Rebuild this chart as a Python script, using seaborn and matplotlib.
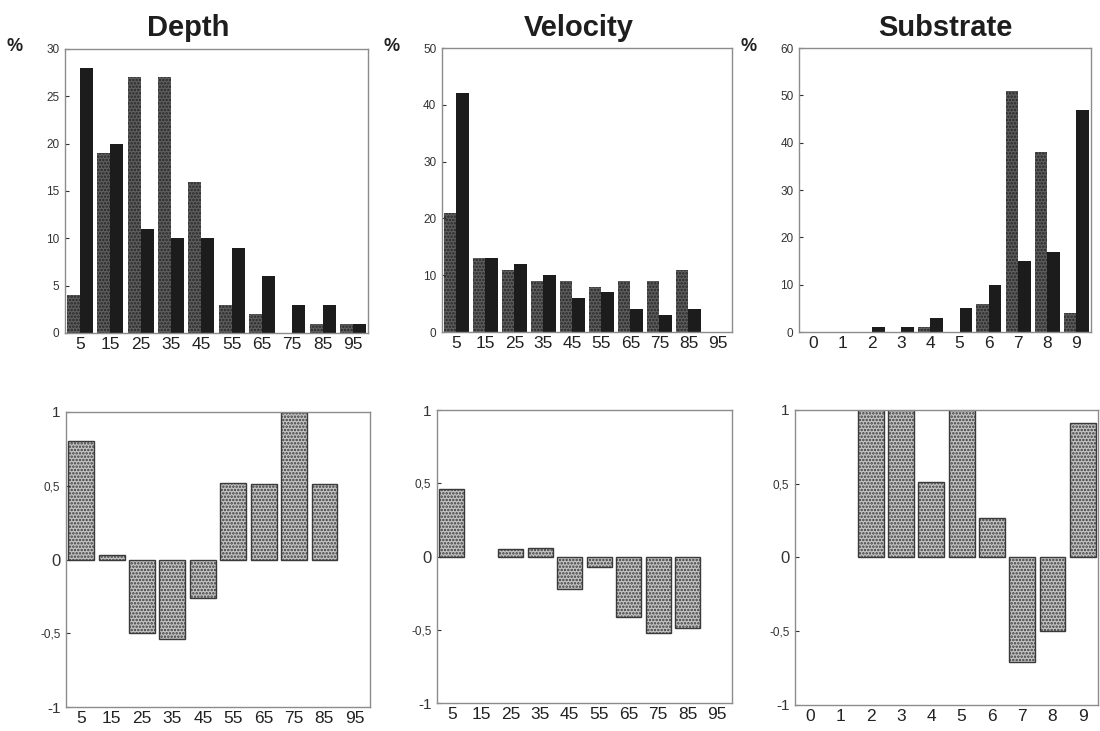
import pandas as pd
import numpy as np
import matplotlib
matplotlib.use('Agg')
import matplotlib.pyplot as plt
import seaborn as sns

# classes em cada painel
classes_prof = ['5', '15', '25', '35', '45', '55', '65', '75', '85', '95']
classes_vel = ['5', '15', '25', '35', '45', '55', '65', '75', '85', '95']
classes_subs = ['0', '1', '2', '3', '4', '5', '6', '7', '8', '9']

# frequencias (%) - disponivel (claro) e usado (escuro)
prof_disp = [4, 19, 27, 27, 16, 3, 2, 0, 1, 1]
prof_uso = [28, 20, 11, 10, 10, 9, 6, 3, 3, 1]
vel_disp = [21, 13, 11, 9, 9, 8, 9, 9, 11, 0]
vel_uso = [42, 13, 12, 10, 6, 7, 4, 3, 4, 0]
subs_disp = [0, 0, 0, 0, 1, 0, 6, 51, 38, 4]
subs_uso = [0, 0, 1, 1, 3, 5, 10, 15, 17, 47]

# indice de selecao (linha de baixo), None = sem barra
prof_ind = [0.80, 0.03, -0.50, -0.54, -0.26, 0.52, 0.51, 1.0, 0.51, None]
vel_ind = [0.46, None, 0.05, 0.06, -0.22, -0.07, -0.41, -0.52, -0.49, None]
subs_ind = [None, None, 1.0, 1.0, 0.51, 1.0, 0.27, -0.71, -0.50, 0.91]

titulos = ['Depth', 'Velocity', 'Substrate']
ylim_topo = [30, 50, 60]
passo_topo = [5, 10, 10]

plt.rcParams['font.family'] = ['Liberation Sans', 'DejaVu Sans']
plt.rcParams['hatch.linewidth'] = 1.2

fig = plt.figure(figsize=(11, 7.31), dpi=100)

pos_topo = [[0.0591, 0.5445, 0.2755, 0.3885],
            [0.4018, 0.5458, 0.2636, 0.3885],
            [0.7264, 0.5458, 0.2655, 0.3885]]
pos_baixo = [[0.0600, 0.0328, 0.2764, 0.4036],
             [0.3973, 0.0383, 0.2682, 0.4008],
             [0.7227, 0.0356, 0.2755, 0.4036]]
x_titulo = [0.406, 0.472, 0.5]

dados_topo = [(classes_prof, prof_disp, prof_uso),
              (classes_vel, vel_disp, vel_uso),
              (classes_subs, subs_disp, subs_uso)]
dados_baixo = [(classes_prof, prof_ind), (classes_vel, vel_ind), (classes_subs, subs_ind)]


def estilo_eixo(ax):
    for s in ax.spines.values():
        s.set_visible(True)
        s.set_color('#8c8c8c')
        s.set_linewidth(1.0)
    ax.set_xlabel('')
    ax.set_ylabel('')
    ax.set_xlim(-0.5, 9.5)
    ax.tick_params(axis='x', length=0, labelsize=12.5, pad=3, colors='#222222')
    ax.tick_params(axis='y', direction='in', length=3, labelsize=8.5, pad=4,
                   colors='#333333')


for i in range(3):
    classes, disp, uso = dados_topo[i]
    df = pd.DataFrame({
        'classe': classes * 2,
        'valor': disp + uso,
        'tipo': ['disp'] * len(classes) + ['uso'] * len(classes),
    })
    ax = fig.add_axes(pos_topo[i])
    sns.barplot(data=df, x='classe', y='valor', hue='tipo', order=classes,
                palette=['#5e5e5e', '#1c1c1c'], width=0.86, linewidth=0,
                legend=False, ax=ax)
    for p in ax.containers[0]:
        p.set_hatch('.....')
        p.set_edgecolor('#262626')
        p.set_linewidth(0)
    estilo_eixo(ax)
    ax.set_ylim(0, ylim_topo[i])
    ax.set_yticks(np.arange(0, ylim_topo[i] + 1, passo_topo[i]))
    ax.set_title(titulos[i], fontsize=21, fontweight='bold', pad=9,
                 color='#1e1e1e', x=x_titulo[i])
    ax.annotate('%', xy=(0, 1), xycoords='axes fraction', xytext=(-50, 2),
                textcoords='offset pixels', fontsize=13, fontweight='bold',
                color='#222222', ha='center', va='center')

for i in range(3):
    classes, ind = dados_baixo[i]
    df = pd.DataFrame({'classe': classes, 'valor': ind}).dropna()
    ax = fig.add_axes(pos_baixo[i])
    sns.barplot(data=df, x='classe', y='valor', order=classes, color='#c4c4c4',
                width=0.85, edgecolor='#3a3a3a', linewidth=1.0, hatch='.....',
                ax=ax)
    estilo_eixo(ax)
    ax.set_ylim(-1, 1)
    ax.set_yticks([-1, -0.5, 0, 0.5, 1])
    ax.set_yticklabels(['-1', '-0,5', '0', '0,5', '1'])
    labs = ax.get_yticklabels()
    labs[2].set_fontsize(12)
    labs[0].set_fontsize(11)
    labs[4].set_fontsize(11)

fig.savefig('out.png', dpi=100)
